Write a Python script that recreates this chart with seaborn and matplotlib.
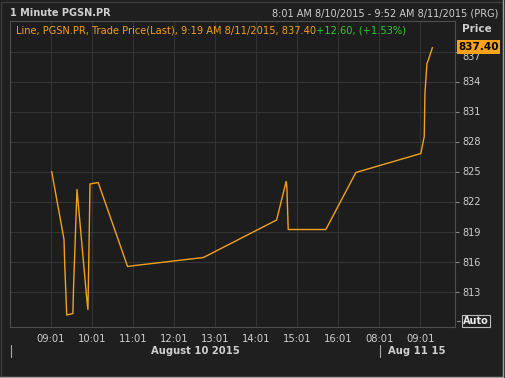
import matplotlib
matplotlib.use("Agg")
import matplotlib.pyplot as plt
import matplotlib.patches as mpatches
import seaborn as sns
import pandas as pd

# ---- data ----
day = [1]*21 + [2]*6
times = ["09:02", "09:20", "09:21", "09:24", "09:33", "09:34", "09:39", "09:53", "09:55",
         "09:57", "09:58", "10:10", "10:53", "11:04", "12:44", "14:31", "14:45", "14:46",
         "14:48", "15:43", "16:27",
         "09:02", "09:07", "09:08", "09:11", "09:13", "09:19"]
prices = [825.0, 818.2, 815.8, 810.65, 810.8, 813.5, 823.2, 812.5, 811.2,
          819.2, 823.75, 823.9, 815.5, 815.6, 816.4, 820.15, 824.0, 823.5,
          819.2, 819.2, 824.9,
          826.8, 828.5, 832.8, 835.8, 836.15, 837.4]
y_ticks = [813, 816, 819, 822, 825, 828, 831, 834, 837]
x_tick_labels = ["09:01", "10:01", "11:01", "12:01", "13:01", "14:01", "15:01", "16:01", "08:01", "09:01"]
x_tick_day = [1, 1, 1, 1, 1, 1, 1, 1, 2, 2]
date_labels = ["August 10 2015", "Aug 11 15"]

SESSION_START = 8 * 60 + 1
SESSION_LEN = 540


def to_t(d, hhmm):
    h, m = map(int, hhmm.split(":"))
    return (d - 1) * SESSION_LEN + h * 60 + m - SESSION_START


df = pd.DataFrame({"t": [to_t(d, s) for d, s in zip(day, times)], "price": prices})
xt = [to_t(d, s) for d, s in zip(x_tick_day, x_tick_labels)]

BG = "#1f1f1f"
GRID = "#333333"
SPINE = "#4e4e4e"
TXT = "#cfcfcf"
ORANGE = "#f2a020"

sns.set_theme(style="dark")
plt.rcParams["font.family"] = ["DejaVu Sans"]

W, H = 505, 378
fig = plt.figure(figsize=(W / 100, H / 100), dpi=100, facecolor=BG)
ax = fig.add_axes([10 / W, 1 - 327 / H, 445 / W, 306 / H], facecolor="#1d1d1d")

sns.lineplot(data=df, x="t", y="price", ax=ax, color=ORANGE, linewidth=1.0,
             estimator=None, sort=False)

ax.set_xlim(0, 651)
ax.set_ylim(809.45, 840.05)
ax.set_xticks(xt)
ax.set_xticklabels(x_tick_labels)
ax.set_yticks(y_ticks)
# the top tick label is drawn below its tick (pushed down by the price box)
ax.set_yticklabels([str(v) for v in y_ticks[:-1]] + [""])
ax.yaxis.tick_right()
ax.set_xlabel("")
ax.set_ylabel("")
ax.grid(True, color=GRID, linewidth=0.8)
ax.tick_params(axis="x", colors=TXT, labelsize=7.2, length=2, width=0.8, pad=3, color="#888888")
ax.tick_params(axis="y", colors=TXT, labelsize=7, length=3, width=0.8, pad=2, color="#888888",
               right=True, left=False)
for sp in ax.spines.values():
    sp.set_color(SPINE)
    sp.set_linewidth(0.8)
    sp.set_visible(True)

fig.text(462 / W, 1 - 57 / H, str(y_ticks[-1]), color=TXT, fontsize=7, ha="left", va="center")

# header texts
fig.text(10 / W, 1 - 13 / H, "1 Minute PGSN.PR", color=TXT, fontsize=7.0, fontweight="bold",
         ha="left", va="center")
fig.text(498 / W, 1 - 13 / H, "8:01 AM 8/10/2015 - 9:52 AM 8/11/2015 (PRG)", color=TXT,
         fontsize=7.0, ha="right", va="center")

# legend line
t1 = ax.text(6 / 445, 1 - 9.5 / 306, "Line, PGSN.PR, Trade Price(Last), 9:19 AM 8/11/2015, 837.40",
             transform=ax.transAxes, color=ORANGE, fontsize=7.1, ha="left", va="center")
fig.canvas.draw()
bb = t1.get_window_extent(renderer=fig.canvas.get_renderer())
x_end = ax.transAxes.inverted().transform((bb.x1, bb.y0))[0]
ax.text(x_end, 1 - 9.5 / 306, "+12.60, (+1.53%)", transform=ax.transAxes, color="#2ecc2e",
        fontsize=7.1, ha="left", va="center")

# right-side labels
fig.text(462 / W, 1 - 29 / H, "Price", color=TXT, fontsize=7.5, fontweight="bold",
         ha="left", va="center")
fig.text(478.5 / W, 1 - 47 / H, "837.40", color="black", fontsize=7.5, fontweight="bold",
         ha="center", va="center",
         bbox=dict(boxstyle="square,pad=0.15", facecolor="#f7a21b", edgecolor="none"))
fig.text(476 / W, 1 - 321 / H, "Auto", color="#e8e8e8", fontsize=7, fontweight="bold",
         ha="center", va="center",
         bbox=dict(boxstyle="square,pad=0.12", facecolor=BG, edgecolor="#bbbbbb", linewidth=0.8))
fig.lines.append(plt.Line2D([457 / W, 460 / W], [1 - 321 / H, 1 - 321 / H],
                            transform=fig.transFigure, color="#888888", linewidth=0.8))

# date labels
fig.text(195 / W, 1 - 351 / H, date_labels[0], color=TXT, fontsize=7.2, fontweight="bold",
         ha="center", va="center")
fig.text(417 / W, 1 - 351 / H, date_labels[1], color=TXT, fontsize=7.2, fontweight="bold",
         ha="center", va="center")
for xp in (10.5, 379.5):
    fig.lines.append(plt.Line2D([xp / W, xp / W], [1 - 345 / H, 1 - 357 / H],
                                transform=fig.transFigure, color="#aaaaaa", linewidth=0.8))

# outer frame
fig.patches.append(mpatches.Rectangle((0.5 / W, 1.5 / H), (W - 3) / W, (H - 3) / H,
                                      transform=fig.transFigure, fill=False,
                                      edgecolor="#3c3c3c", linewidth=1.0))
fig.lines.append(plt.Line2D([502.5 / W, 502.5 / W], [1.5 / H, 1], transform=fig.transFigure,
                            color="#a0a0a0", linewidth=1.0))
fig.lines.append(plt.Line2D([0, 503 / W], [1.5 / H, 1.5 / H], transform=fig.transFigure,
                            color="#a0a0a0", linewidth=1.0))

fig.savefig("out.png", dpi=100, facecolor=BG)
